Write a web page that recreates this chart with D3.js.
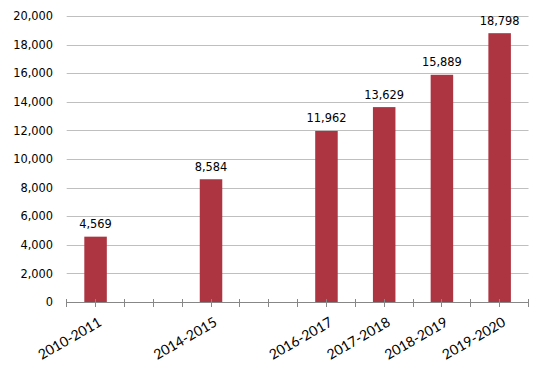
<!DOCTYPE html>
<html>
<head>
<meta charset="utf-8">
<script src="https://cdn.jsdelivr.net/npm/d3@7"></script>
<style>
  body { margin: 0; background: #fff; }
  svg { display: block; }
</style>
</head>
<body>
<svg width="539" height="375"></svg>
<script>
// periods on the category axis (two unlabeled slots)
const periods = ['2010-2011', '', '2014-2015', '', '2016-2017', '2017-2018', '2018-2019', '2019-2020'];
const counts = [4569, null, 8584, null, 11962, 13629, 15889, 18798];
const yTicks = [0, 2000, 4000, 6000, 8000, 10000, 12000, 14000, 16000, 18000, 20000];

const svg = d3.select('svg');
const fmt = d3.format(',');

const plot = {left: 66.7, right: 528.5, top: 16, bottom: 302};

const x = d3.scaleBand()
  .domain(d3.range(periods.length))
  .range([plot.left, plot.right])
  .paddingInner(0.61)
  .paddingOuter(0.305);

const y = d3.scaleLinear()
  .domain([0, 20000])
  .range([plot.bottom, plot.top]);

const crisp = v => Math.round(v) + 0.5;

// gridlines
svg.append('g')
  .selectAll('line')
  .data(yTicks.slice(1))
  .enter().append('line')
    .attr('x1', plot.left)
    .attr('x2', plot.right)
    .attr('y1', d => crisp(y(d)))
    .attr('y2', d => crisp(y(d)))
    .attr('stroke', '#bfbfbf')
    .attr('stroke-width', 1);

// y labels
svg.append('g')
  .selectAll('text')
  .data(yTicks)
  .enter().append('text')
    .attr('x', 53)
    .attr('y', d => y(d))
    .attr('dy', '0.36em')
    .attr('text-anchor', 'end')
    .attr('font-family', 'DejaVu Sans, Verdana, sans-serif')
    .attr('font-size', 11.4)
    .attr('fill', '#000')
    .text(d => fmt(d));

// bars
const data = periods.map((p, i) => ({i, p, v: counts[i]})).filter(d => d.v != null);

svg.append('g')
  .selectAll('rect')
  .data(data)
  .enter().append('rect')
    .attr('x', d => x(d.i))
    .attr('width', x.bandwidth())
    .attr('y', d => y(d.v))
    .attr('height', d => y(0) - y(d.v))
    .attr('fill', '#ad3541');

// value labels
svg.append('g')
  .selectAll('text')
  .data(data)
  .enter().append('text')
    .attr('x', d => x(d.i) + x.bandwidth() / 2)
    .attr('y', d => y(d.v) - 8.5)
    .attr('text-anchor', 'middle')
    .attr('font-family', 'DejaVu Sans, Verdana, sans-serif')
    .attr('font-size', 11.4)
    .attr('fill', '#000')
    .text(d => fmt(d.v));

// x axis line and ticks (at band edges and centers)
const ax = svg.append('g');
ax.append('line')
  .attr('x1', plot.left)
  .attr('x2', plot.right)
  .attr('y1', crisp(y(0)))
  .attr('y2', crisp(y(0)))
  .attr('stroke', '#878787');

ax.selectAll('line.tick')
  .data(d3.range(periods.length * 2 + 1))
  .enter().append('line')
    .attr('class', 'tick')
    .attr('x1', k => crisp(plot.left + k * x.step() / 2 - 0.5))
    .attr('x2', k => crisp(plot.left + k * x.step() / 2 - 0.5))
    .attr('y1', y(0) - 3)
    .attr('y2', y(0) + 5)
    .attr('stroke', '#878787');

// category labels
ax.selectAll('text')
  .data(periods.map((p, i) => ({i, p})).filter(d => d.p))
  .enter().append('text')
    .attr('transform', d => `translate(${x(d.i) + x.bandwidth() / 2 + 7}, ${y(0) + 23}) rotate(-30)`)
    .attr('text-anchor', 'end')
    .attr('font-family', 'Lato, "Open Sans", sans-serif')
    .attr('font-size', 14)
    .attr('fill', '#000')
    .text(d => d.p);
</script>
</body>
</html>
